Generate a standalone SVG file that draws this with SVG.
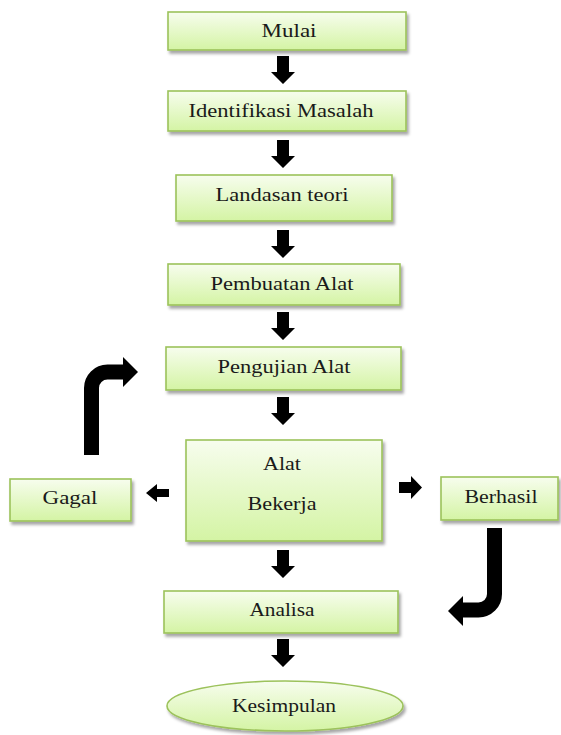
<svg xmlns="http://www.w3.org/2000/svg" width="561" height="735" viewBox="0 0 561 735">
<defs>
<linearGradient id="g" x1="0" y1="0" x2="0" y2="1">
<stop offset="0" stop-color="#f7fdee"/>
<stop offset="1" stop-color="#d4f4a4"/>
</linearGradient>
<filter id="sh" x="-10%" y="-20%" width="125%" height="150%">
<feDropShadow dx="2" dy="3" stdDeviation="1.5" flood-color="#000" flood-opacity="0.35"/>
</filter>
<path id="dn" d="M-6 0 H6 V16 H12 L0 28 L-12 16 H-6 Z"/>
</defs>
<style>
.b{fill:url(#g);stroke:#9cc25b;stroke-width:1.6;filter:url(#sh)}
.t text{font-family:'Liberation Serif','DejaVu Serif','Times New Roman',serif;font-size:18px;fill:#1a1a1a;text-anchor:middle}
.a{fill:#000}
.s{fill:none;stroke:#000;stroke-width:15}
</style>
<rect width="561" height="735" fill="#fff"/>
<g class="t">
<g id="mulai"><rect class="b" x="168" y="12" width="238" height="38"/><text x="289" y="37" textLength="55" lengthAdjust="spacingAndGlyphs">Mulai</text></g>
<g id="identifikasi"><rect class="b" x="168" y="91" width="238" height="40"/><text x="281" y="117" textLength="185" lengthAdjust="spacingAndGlyphs">Identifikasi Masalah</text></g>
<g id="landasan"><rect class="b" x="176" y="175" width="216" height="46"/><text x="282" y="201" textLength="133" lengthAdjust="spacingAndGlyphs">Landasan teori</text></g>
<g id="pembuatan"><rect class="b" x="168" y="264" width="232" height="41"/><text x="282" y="290" textLength="143" lengthAdjust="spacingAndGlyphs">Pembuatan Alat</text></g>
<g id="pengujian"><rect class="b" x="166" y="347" width="235" height="43"/><text x="284" y="373" textLength="133" lengthAdjust="spacingAndGlyphs">Pengujian Alat</text></g>
<g id="alat-bekerja"><rect class="b" x="186" y="440" width="196" height="101"/><text x="282" y="470" textLength="38" lengthAdjust="spacingAndGlyphs">Alat</text><text x="282" y="510" textLength="69" lengthAdjust="spacingAndGlyphs">Bekerja</text></g>
<g id="gagal"><rect class="b" x="10" y="479" width="121" height="42"/><text x="70" y="504" textLength="55" lengthAdjust="spacingAndGlyphs">Gagal</text></g>
<g id="berhasil"><rect class="b" x="441" y="477" width="117" height="43"/><text x="501" y="503" textLength="73" lengthAdjust="spacingAndGlyphs">Berhasil</text></g>
<g id="analisa"><rect class="b" x="164" y="591" width="234" height="42"/><text x="282" y="616" textLength="65" lengthAdjust="spacingAndGlyphs">Analisa</text></g>
<g id="kesimpulan"><ellipse class="b" cx="285" cy="706" rx="118" ry="25"/><text x="284" y="712" textLength="104" lengthAdjust="spacingAndGlyphs">Kesimpulan</text></g>
</g>
<g id="connectors">
<use href="#dn" class="a" x="283" y="56"/>
<use href="#dn" class="a" x="283" y="140"/>
<use href="#dn" class="a" x="283" y="230"/>
<use href="#dn" class="a" x="283" y="312"/>
<use href="#dn" class="a" x="283" y="397"/>
<use href="#dn" class="a" x="283" y="550"/>
<use href="#dn" class="a" x="283" y="639"/>
<path class="a" d="M169 489 H157 V484 L146 493 L157 502 V497 H169 Z"/>
<path class="a" d="M399 482 H411 V476 L422 487.5 L411 499 V493 H399 Z"/>
<path class="s" d="M91.5 455 V388 A16 16 0 0 1 107.5 372 H124"/>
<path class="a" d="M123 357 L138 372 L123 387 Z"/>
<path class="s" d="M494.5 528 V594 A16 16 0 0 1 478.5 610 H462"/>
<path class="a" d="M463 596 L448 611 L463 626 Z"/>
</g>
</svg>
